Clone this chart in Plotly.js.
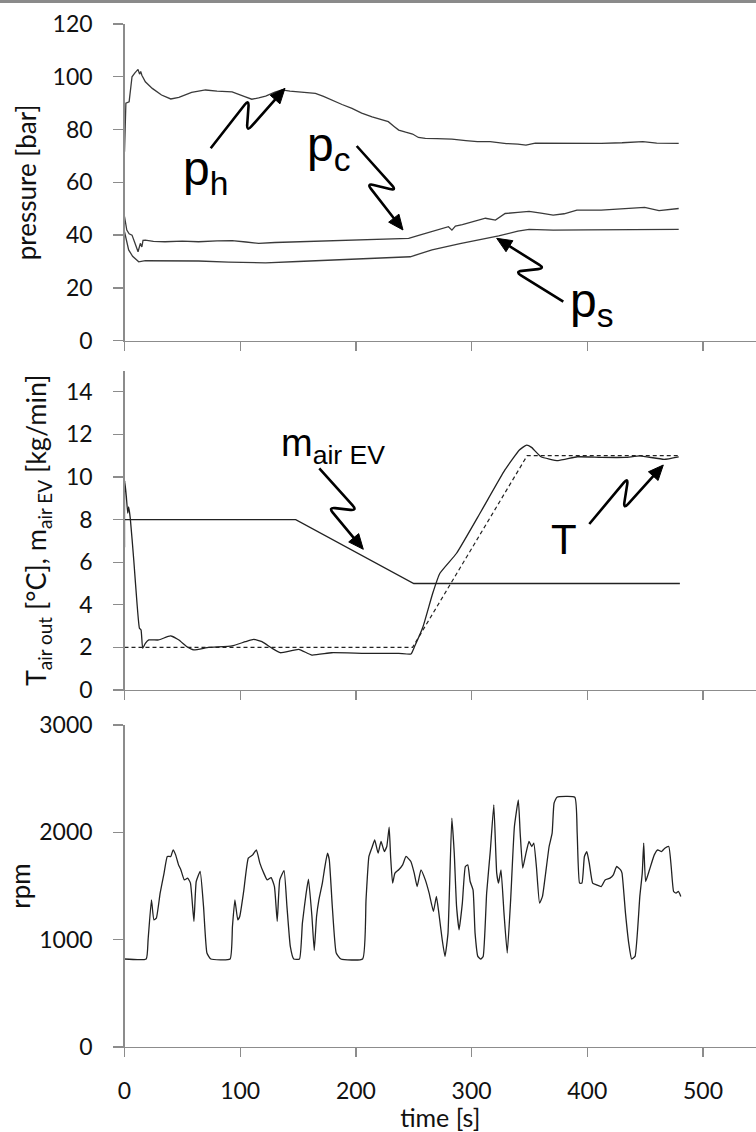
<!DOCTYPE html>
<html>
<head>
<meta charset="utf-8">
<script src="https://cdn.plot.ly/plotly-3.0.1.min.js"></script>
<style>html,body{margin:0;padding:0;background:#fff;}#chart{width:756px;height:1132px;}</style>
</head>
<body>
<div id="chart"></div>
<script>
// ---------- data ----------
const ph_t = [0,1.2,4,6.5,9,11.7,13,14,15,18,24,32,40,47,58,70,80,93,104.5,110,116,122,130,136,143,150.6,158,165,172,179,188,196.6,205,214,222,228,233,237,243,249,254,260,270,283,295,305,316,330,340,347,355,370,390,412,430,448,460,479];
const ph_v = [71.6,90,90.5,100,101.5,102.8,101,102,100.6,98.1,95.6,93.1,91.6,92.2,94.1,95,94.6,94.3,92.4,91.5,92,92.7,94.2,95,94.6,94.3,94.1,93.7,92.6,91.2,89.5,88,86.2,84.8,83.8,83,81.2,79.8,79,78.3,77,76.7,76.6,76.4,75.8,75.4,75.4,74.7,74.5,74.1,74.9,74.8,74.9,74.8,75,75.4,74.9,74.8];

const pc_t = [0,1,2,4,6.5,9,11.7,13.7,15,16,18,25,35,50,64,80,93,105,116,130,150.6,165,179,195,208,225,245.6,255,265.8,275,280,283,286,292,300,306,312,320.6,329,340,349.7,360,370.5,380,391,412,433,449.6,462,479];
const pc_v = [47,45,41.9,40.5,40,37,33.7,36.9,35.5,38,38.1,37.6,37.5,37.7,37.5,37.8,37.9,37.4,36.9,37.2,37.5,37.8,37.9,38.2,38.4,38.5,38.8,40,41.3,42.6,43.2,41.9,43.4,44,45,45.8,46.4,45.7,48.2,48.6,49,48.3,47.6,48.1,49.5,49.5,50.1,50.5,49.3,50.1];

const ps_t = [0,1.5,3.6,7,12.3,18,40,64,90,122,150,179,210,247,265.8,290,323.4,340,349.7,370.5,400,440,479];
const ps_v = [41.3,38,34.4,32,29.9,30.3,30.3,30.2,29.8,29.5,30,30.6,31.1,31.8,34.4,36.8,39.7,41.5,42.2,41.9,42,42.1,42.2];

const mair_t = [0,148,250,480];
const mair_v = [8,8,5,5];

const tset_t = [0,249,348,480];
const tset_v = [2,2,11,11];

const tair_t = [0,0.2,1.6,2.8,3.6,5,8,10.8,12.9,14.3,15.7,18,21,29.5,39.7,47,54,59.8,72.8,93,104.5,111.7,118.8,127.5,134.7,150.6,162,179,208,237,247.6,250.6,258,266.4,272.6,287,308,328.8,341.3,347.6,351.8,360,374.7,391.4,412,433,445.5,466.4,479];
const tair_v = [6.7,9.83,9.08,8.3,8.6,8.06,6.1,4.07,2.9,2.82,1.96,2.19,2.35,2.35,2.54,2.35,2.03,1.88,2.0,2.07,2.27,2.38,2.27,1.96,1.75,1.91,1.64,1.75,1.72,1.72,1.69,2.03,2.97,4.54,5.48,6.42,8.37,10.33,11.27,11.5,11.39,10.95,10.77,10.95,10.92,10.92,10.99,10.83,10.95];

const rpm_t = [0,18.75,20.4,23.3,25.4,27.5,30.8,34.2,37,40,42,44.2,46.7,48.75,51.7,54.6,57,60,62,65.4,68.3,71.25,74.6,91.25,93.3,95.4,97.9,99.6,103,107,110.8,114,117,120.4,123.3,126.7,129.6,132,134.2,137.9,140.4,143.3,146.25,151.25,153.75,157,159,162,164,166,168,171,173,175.4,177,179.6,183,187,205.8,208.75,211.25,214.2,216.25,219.2,221.7,224.6,226.7,228.75,230,231.7,233.75,237,240.4,243.3,247.5,250.4,252.9,256.25,260,263.3,267,269.6,271.7,274.6,277,279.6,282.9,285,287,289.2,292,294.6,296.7,298.75,301.25,303,305.4,307.9,310,313,316.25,319.2,321.7,323.3,325.4,328,330.8,333.75,337,340.4,342,344.2,346.7,349.6,352,353.75,356,358.75,361.25,364,367,369.6,371.25,373.75,389.2,391.25,393.3,395.4,397.5,399.6,401.7,404.6,408,412,415.4,419.6,422.5,425.4,428.75,430,433,435.8,438.3,441.25,445.4,447.5,448.75,450.4,453.75,457.9,460.8,464.2,467,470.4,472.5,474.6,476.7,478.75,480.8];
const rpm_v = [820,820,1000,1371,1185,1200,1433,1620,1775,1775,1837,1790,1697,1650,1557,1573,1527,1170,1542,1635,1310,875,820,820,1123,1371,1185,1216,1449,1759,1790,1837,1713,1620,1557,1579,1495,1170,1557,1644,1310,937,820,820,1154,1433,1564,1216,900,1216,1371,1527,1666,1806,1744,1310,875,820,820,1371,1775,1868,1930,1806,1915,1821,1868,2048,1775,1527,1620,1651,1697,1775,1728,1620,1495,1651,1557,1433,1263,1403,1247,999,844,1061,2131,1806,1310,1092,1340,1682,1697,1542,1464,1061,844,820,844,1433,1837,2256,1620,1527,1651,1247,875,1371,2054,2302,1992,1666,1790,1915,1868,1899,1682,1340,1403,1620,1868,1992,2271,2327,2327,1992,1527,1527,1775,1821,1713,1527,1511,1495,1557,1573,1604,1682,1651,1620,1247,968,820,844,1403,1620,1899,1542,1651,1790,1837,1821,1852,1868,1682,1449,1433,1449,1403];

const xTicks = [0,100,200,300,400,500];
const yTicksP = [0,20,40,60,80,100,120];
const yTicksT = [0,2,4,6,8,10,12,14];
const yTicksR = [0,1000,2000,3000];

// ---------- layout helpers ----------
const W = 756, H = 1132;
const FONT = 'Lato, "Open Sans", sans-serif';
const LAB = '"Liberation Sans", Arial, sans-serif';
const P = (x, y) => [x / W, 1 - y / H];
const fy = y => 1 - y / H;

function roundedPath(pts, r) {
  let d = [];
  const f = (p) => { const q = P(p[0], p[1]); return q[0].toFixed(5) + ',' + q[1].toFixed(5); };
  d.push('M' + f(pts[0]));
  for (let i = 1; i < pts.length - 1; i++) {
    const a = pts[i - 1], b = pts[i], c = pts[i + 1];
    const l1 = Math.hypot(b[0] - a[0], b[1] - a[1]);
    const l2 = Math.hypot(c[0] - b[0], c[1] - b[1]);
    const rr = Math.min(r, l1 * 0.45, l2 * 0.45);
    const p1 = [b[0] - (b[0] - a[0]) / l1 * rr, b[1] - (b[1] - a[1]) / l1 * rr];
    const p2 = [b[0] + (c[0] - b[0]) / l2 * rr, b[1] + (c[1] - b[1]) / l2 * rr];
    d.push('L' + f(p1));
    d.push('Q' + f(b) + ' ' + f(p2));
  }
  d.push('L' + f(pts[pts.length - 1]));
  return d.join(' ');
}
function zigArrow(pts) {
  const n = pts.length;
  const tip = pts[n - 1], prev = pts[n - 2];
  const L = Math.hypot(tip[0] - prev[0], tip[1] - prev[1]);
  const ux = (tip[0] - prev[0]) / L, uy = (tip[1] - prev[1]) / L;
  const hl = 15, hw = 6.5;
  const base = [tip[0] - ux * hl, tip[1] - uy * hl];
  const linePts = pts.slice(0, n - 1).concat([[base[0] + ux * 2, base[1] + uy * 2]]);
  const left = [base[0] - uy * hw, base[1] + ux * hw];
  const right = [base[0] + uy * hw, base[1] - ux * hw];
  const f = (p) => { const q = P(p[0], p[1]); return q[0].toFixed(5) + ',' + q[1].toFixed(5); };
  return [
    {type: 'path', xref: 'paper', yref: 'paper', path: roundedPath(linePts, 7), line: {color: '#000', width: 2.6}},
    {type: 'path', xref: 'paper', yref: 'paper', path: 'M' + f(tip) + ' L' + f(left) + ' L' + f(right) + ' Z', fillcolor: '#000', line: {color: '#000', width: 1}}
  ];
}

const lineStyle = {color: '#3a3a3a', width: 1.3};
const traces = [
  {x: ph_t, y: ph_v, name: 'p_h', xaxis: 'x', yaxis: 'y', mode: 'lines', line: lineStyle},
  {x: pc_t, y: pc_v, name: 'p_c', xaxis: 'x', yaxis: 'y', mode: 'lines', line: lineStyle},
  {x: ps_t, y: ps_v, name: 'p_s', xaxis: 'x', yaxis: 'y', mode: 'lines', line: lineStyle},
  {x: mair_t, y: mair_v, name: 'm_air EV', xaxis: 'x2', yaxis: 'y2', mode: 'lines', line: {color: '#222', width: 1.3}},
  {x: tset_t, y: tset_v, name: 'T setpoint', xaxis: 'x2', yaxis: 'y2', mode: 'lines', line: {color: '#222', width: 1.2, dash: '4px,3px'}},
  {x: tair_t, y: tair_v, name: 'T air out', xaxis: 'x2', yaxis: 'y2', mode: 'lines', line: {color: '#222', width: 1.3, shape: 'spline', smoothing: 0.4}},
  {x: rpm_t, y: rpm_v, name: 'rpm', xaxis: 'x3', yaxis: 'y3', mode: 'lines', line: {color: '#222', width: 1.3, shape: 'spline', smoothing: 0.4}}
];

const xDom = [124.5 / W, 1];
const xMax = (W - 124.5) / 1.157;
const axCol = '#8c8c8c';
const tickFont = {family: FONT, size: 23, color: '#111'};
const titleFont = {family: FONT, size: 26, color: '#111'};
function xAx(anchor, showLabels) {
  return {domain: xDom, anchor: anchor, range: [0, xMax], tickvals: xTicks, showticklabels: showLabels,
    showline: true, linecolor: axCol, linewidth: 1.3, ticks: 'outside', ticklen: 9, tickcolor: axCol, tickwidth: 1.3,
    showgrid: false, zeroline: false, tickfont: tickFont, ticklabelstandoff: 14, fixedrange: true};
}
function yAx(anchor, dom, range, tv, title, standoff, tsize) {
  return {domain: dom, anchor: anchor, range: range, tickvals: tv,
    showline: true, linecolor: axCol, linewidth: 1.3, ticks: 'outside', ticklen: 10, tickcolor: axCol, tickwidth: 1.3,
    showgrid: false, zeroline: false, tickfont: tickFont, ticklabelstandoff: 16,
    title: {text: title, font: Object.assign({}, titleFont, {size: tsize}), standoff: standoff}, fixedrange: true};
}

const layout = {
  width: W, height: H,
  margin: {l: 0, r: 0, t: 0, b: 0},
  paper_bgcolor: '#fff', plot_bgcolor: 'rgba(0,0,0,0)',
  showlegend: false,
  xaxis: xAx('y', false),
  xaxis2: xAx('y2', false),
  xaxis3: Object.assign(xAx('y3', true), {title: {text: 'time [s]', font: Object.assign({}, titleFont, {size: 25}), standoff: 2}}),
  yaxis: yAx('x', [fy(340.7), fy(24)], [0, 120], yTicksP, 'pressure [bar]', 8, 26),
  yaxis2: yAx('x2', [fy(690), fy(370.5)], [0, 15], yTicksT, 'T<sub>air out</sub> [°C], m<sub>air EV</sub> [kg/min]', 11, 27),
  yaxis3: yAx('x3', [fy(1047), fy(725)], [0, 3000], yTicksR, 'rpm', 1, 26),
  annotations: [
    {xref: 'paper', yref: 'paper', x: P(205, 0)[0], y: fy(172), text: 'p<sub>h</sub>', showarrow: false, xanchor: 'center', yanchor: 'middle', font: {family: LAB, size: 48, color: '#000'}},
    {xref: 'paper', yref: 'paper', x: P(329, 0)[0], y: fy(148), text: 'p<sub>c</sub>', showarrow: false, xanchor: 'center', yanchor: 'middle', font: {family: LAB, size: 48, color: '#000'}},
    {xref: 'paper', yref: 'paper', x: P(592, 0)[0], y: fy(304), text: 'p<sub>s</sub>', showarrow: false, xanchor: 'center', yanchor: 'middle', font: {family: LAB, size: 48, color: '#000'}},
    {xref: 'paper', yref: 'paper', x: P(333, 0)[0], y: fy(446), text: 'm<sub>air EV</sub>', showarrow: false, xanchor: 'center', yanchor: 'middle', font: {family: LAB, size: 38, color: '#000'}},
    {xref: 'paper', yref: 'paper', x: P(564, 0)[0], y: fy(539), text: 'T', showarrow: false, xanchor: 'center', yanchor: 'middle', font: {family: LAB, size: 42, color: '#000'}}
  ],
  shapes: [].concat(
    [{type: 'rect', xref: 'paper', yref: 'paper', x0: 0, x1: 1, y0: fy(3), y1: 1, fillcolor: '#8a8a8a', line: {width: 0}}],
    zigArrow([[210.7, 148.3], [249, 99.3], [246.7, 131.7], [285, 88.3]]),
    zigArrow([[356.7, 146], [396.7, 190.7], [366.7, 183.3], [403, 230]]),
    zigArrow([[563.3, 301.7], [515, 271.7], [545, 268.3], [496.7, 238.3]]),
    zigArrow([[319.3, 468.3], [357.3, 510.7], [328.3, 507.3], [363.3, 549.3]]),
    zigArrow([[589.3, 524], [628.3, 477.3], [623.3, 509.3], [663.3, 465]])
  )
};

Plotly.newPlot('chart', traces, layout, {staticPlot: true, displayModeBar: false});
</script>
</body>
</html>
